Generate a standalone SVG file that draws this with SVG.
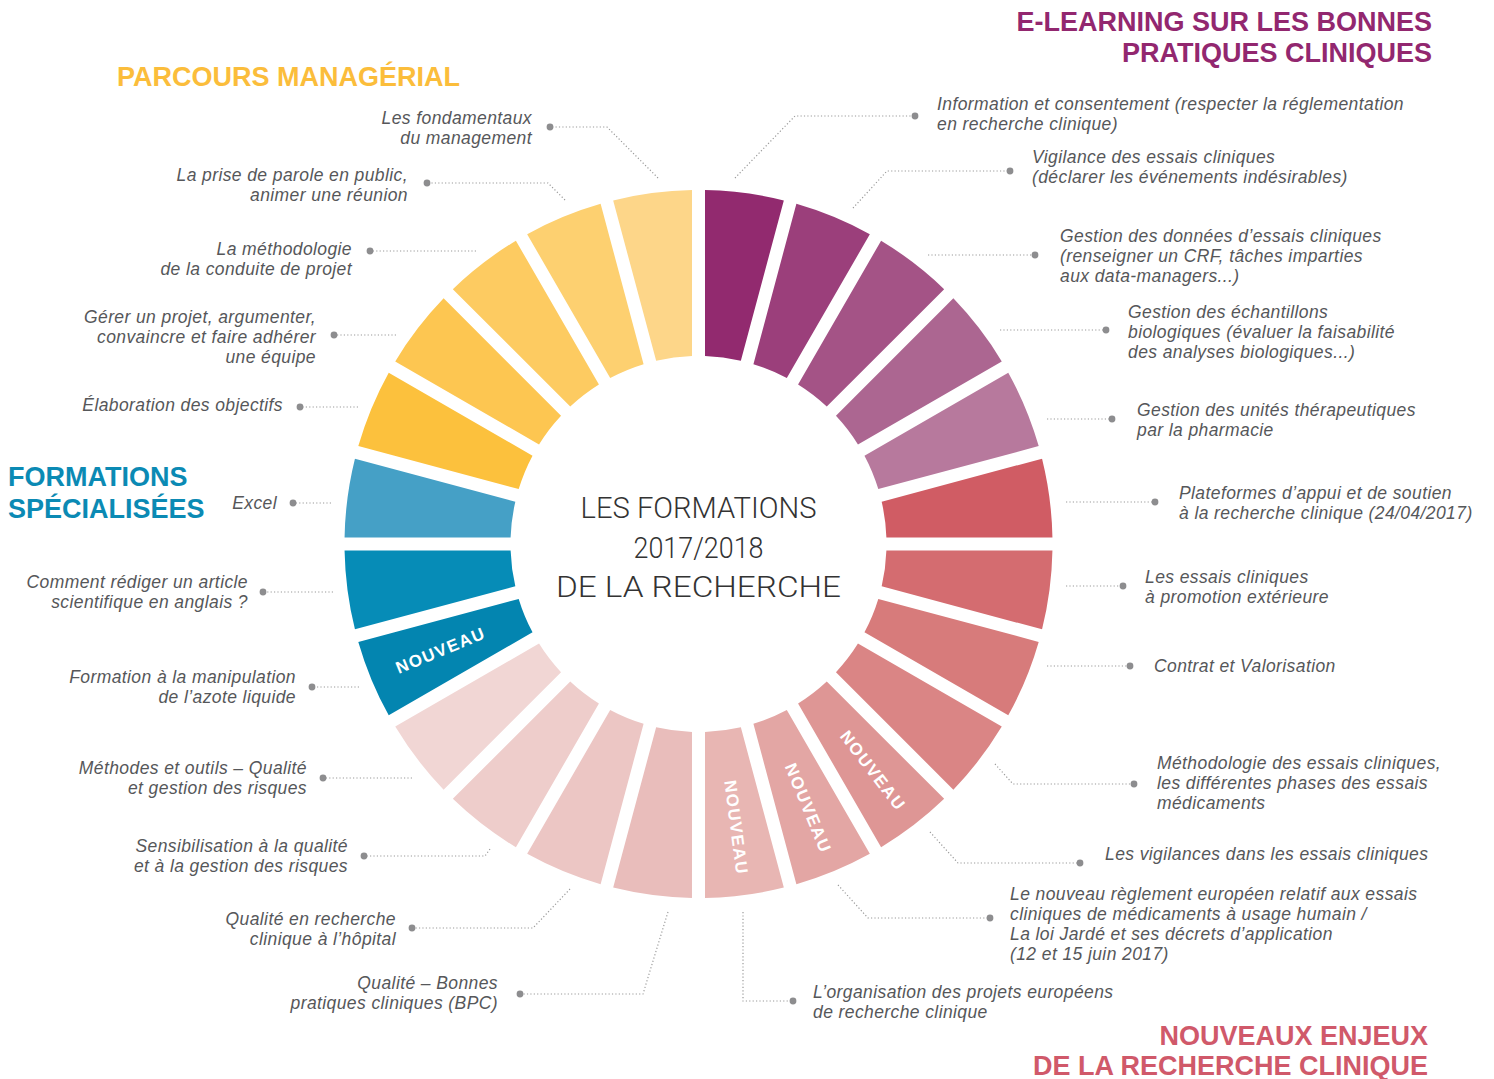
<svg xmlns="http://www.w3.org/2000/svg" xmlns:xlink="http://www.w3.org/1999/xlink" width="1494" height="1079" viewBox="0 0 1494 1079">
  <style>
    .lbl { font-family: "Liberation Sans", Arial, sans-serif; font-style: italic; font-size: 17.5px; letter-spacing: 0.4px; fill: #56575a; }
    .end { text-anchor: end; }
    .new { font-family: "Liberation Sans", Arial, sans-serif; font-weight: bold; font-size: 17px; letter-spacing: 1.5px; fill: #ffffff; text-anchor: middle; dominant-baseline: central; }
    .head { font-family: "Liberation Sans", Arial, sans-serif; font-weight: bold; font-size: 27px; }
    .center { font-family: Roboto, "Liberation Sans", Arial, sans-serif; font-weight: 300; font-size: 29px; fill: #333333; text-anchor: middle; }
    .lead { fill: none; stroke: #9a9a9a; stroke-width: 1.2; stroke-dasharray: 1.2 2.2; marker-end: url(#dot); }
  </style>
  <defs>
    <!-- one ring segment, 15 degrees wide, pointing up, with 13px gaps on both sides -->
    <path id="seg" d="M-39.75,-351.76 A354,354 0 0 1 39.75,-351.76 L18.08,-187.13 A188,188 0 0 0 -18.08,-187.13 Z"/>
    <marker id="dot" markerUnits="userSpaceOnUse" markerWidth="10" markerHeight="10" refX="5" refY="5" orient="auto">
      <circle cx="5" cy="5" r="3.4" fill="#8d8d8f"/>
    </marker>
  </defs>

  <rect width="1494" height="1079" fill="#ffffff"/>

  <!-- category titles -->
  <g id="titles">
    <text class="head" x="117" y="86" font-size="26.5" fill="#fbbd3b">PARCOURS MANAGÉRIAL</text>
    <text class="head" x="1432" y="31" text-anchor="end" fill="#92276f">E-LEARNING SUR LES BONNES</text>
    <text class="head" x="1432" y="62" text-anchor="end" fill="#92276f">PRATIQUES CLINIQUES</text>
    <text class="head" x="8" y="486" fill="#0b8ab4">FORMATIONS</text>
    <text class="head" x="8" y="518" fill="#0b8ab4">SPÉCIALISÉES</text>
    <text class="head" x="1428" y="1045" text-anchor="end" fill="#d0596a">NOUVEAUX ENJEUX</text>
    <text class="head" x="1428" y="1075" text-anchor="end" fill="#d0596a">DE LA RECHERCHE CLINIQUE</text>
  </g>

  <!-- centre title -->
  <g id="centre">
    <text class="center" x="698.5" y="518" textLength="236" lengthAdjust="spacingAndGlyphs">LES FORMATIONS</text>
    <text class="center" x="698.5" y="558" textLength="130" lengthAdjust="spacingAndGlyphs">2017/2018</text>
    <text class="center" x="698.5" y="597" textLength="285" lengthAdjust="spacingAndGlyphs">DE LA RECHERCHE</text>
  </g>

  <!-- leader lines from the ring to each label -->
  <g id="connectors">
    <polyline class="lead" points="735,178 795,116 915,116"/>
    <polyline class="lead" points="853,208 887,171 1010,171"/>
    <polyline class="lead" points="928,255 1035,255"/>
    <polyline class="lead" points="1000,330 1106,330"/>
    <polyline class="lead" points="1047,419 1112,419"/>
    <polyline class="lead" points="1066,502 1155,502"/>
    <polyline class="lead" points="1066,586 1123,586"/>
    <polyline class="lead" points="1047,666 1130,666"/>
    <polyline class="lead" points="995,764 1013,784 1134,784"/>
    <polyline class="lead" points="930,832 958,863 1080,863"/>
    <polyline class="lead" points="838,885 868,918 990,918"/>
    <polyline class="lead" points="743,912 743,1001 793,1001"/>
    <polyline class="lead" points="668,912 643,994 520,994"/>
    <polyline class="lead" points="570,889 533,928 412,928"/>
    <polyline class="lead" points="490,849 485,856 364,856"/>
    <polyline class="lead" points="412,778 323,778"/>
    <polyline class="lead" points="359,687 312,687"/>
    <polyline class="lead" points="333,592 263,592"/>
    <polyline class="lead" points="331,503 293,503"/>
    <polyline class="lead" points="358,407 300,407"/>
    <polyline class="lead" points="396,335 334,335"/>
    <polyline class="lead" points="476,251 370,251"/>
    <polyline class="lead" points="565,200 548,183 427,183"/>
    <polyline class="lead" points="658,178 607,127 550,127"/>
  </g>

  <!-- E-learning: bonnes pratiques cliniques -->
  <g id="information-consentement">
    <use href="#seg" transform="translate(698.5 544) rotate(7.5)" fill="#922a6f"/>
    <text class="lbl" x="937" y="110"><tspan x="937">Information et consentement (respecter la réglementation</tspan><tspan x="937" dy="20">en recherche clinique)</tspan></text>
  </g>
  <g id="vigilance-essais">
    <use href="#seg" transform="translate(698.5 544) rotate(22.5)" fill="#9b3f7b"/>
    <text class="lbl" x="1032" y="163"><tspan x="1032">Vigilance des essais cliniques</tspan><tspan x="1032" dy="20">(déclarer les événements indésirables)</tspan></text>
  </g>
  <g id="gestion-donnees">
    <use href="#seg" transform="translate(698.5 544) rotate(37.5)" fill="#a45386"/>
    <text class="lbl" x="1060" y="242"><tspan x="1060">Gestion des données d’essais cliniques</tspan><tspan x="1060" dy="20">(renseigner un CRF, tâches imparties</tspan><tspan x="1060" dy="20">aux data-managers...)</tspan></text>
  </g>
  <g id="gestion-echantillons">
    <use href="#seg" transform="translate(698.5 544) rotate(52.5)" fill="#ac6691"/>
    <text class="lbl" x="1128" y="318"><tspan x="1128">Gestion des échantillons</tspan><tspan x="1128" dy="20">biologiques (évaluer la faisabilité</tspan><tspan x="1128" dy="20">des analyses biologiques...)</tspan></text>
  </g>
  <g id="gestion-unites">
    <use href="#seg" transform="translate(698.5 544) rotate(67.5)" fill="#b7799d"/>
    <text class="lbl" x="1137" y="416"><tspan x="1137">Gestion des unités thérapeutiques</tspan><tspan x="1137" dy="20">par la pharmacie</tspan></text>
  </g>

  <!-- Nouveaux enjeux de la recherche clinique -->
  <g id="plateformes">
    <use href="#seg" transform="translate(698.5 544) rotate(82.5)" fill="#d05c64"/>
    <text class="lbl" x="1179" y="499"><tspan x="1179">Plateformes d’appui et de soutien</tspan><tspan x="1179" dy="20">à la recherche clinique (24/04/2017)</tspan></text>
  </g>
  <g id="essais-promotion-exterieure">
    <use href="#seg" transform="translate(698.5 544) rotate(97.5)" fill="#d46c70"/>
    <text class="lbl" x="1145" y="583"><tspan x="1145">Les essais cliniques</tspan><tspan x="1145" dy="20">à promotion extérieure</tspan></text>
  </g>
  <g id="contrat-valorisation">
    <use href="#seg" transform="translate(698.5 544) rotate(112.5)" fill="#d77b7b"/>
    <text class="lbl" x="1154" y="672">Contrat et Valorisation</text>
  </g>
  <g id="methodologie-essais">
    <use href="#seg" transform="translate(698.5 544) rotate(127.5)" fill="#da8585"/>
    <text class="lbl" x="1157" y="769"><tspan x="1157">Méthodologie des essais cliniques,</tspan><tspan x="1157" dy="20">les différentes phases des essais</tspan><tspan x="1157" dy="20">médicaments</tspan></text>
  </g>
  <g id="vigilances-essais">
    <use href="#seg" transform="translate(698.5 544) rotate(142.5)" fill="#de9695"/>
    <text class="new" transform="translate(698.5 544) rotate(142.5) translate(0 -286) rotate(-90)">NOUVEAU</text>
    <text class="lbl" x="1105" y="860">Les vigilances dans les essais cliniques</text>
  </g>
  <g id="reglement-europeen">
    <use href="#seg" transform="translate(698.5 544) rotate(157.5)" fill="#e3a6a4"/>
    <text class="new" transform="translate(698.5 544) rotate(157.5) translate(0 -286) rotate(-90)">NOUVEAU</text>
    <text class="lbl" x="1010" y="900"><tspan x="1010">Le nouveau règlement européen relatif aux essais</tspan><tspan x="1010" dy="20">cliniques de médicaments à usage humain /</tspan><tspan x="1010" dy="20">La loi Jardé et ses décrets d’application</tspan><tspan x="1010" dy="20">(12 et 15 juin 2017)</tspan></text>
  </g>
  <g id="projets-europeens">
    <use href="#seg" transform="translate(698.5 544) rotate(172.5)" fill="#e8b6b3"/>
    <text class="new" transform="translate(698.5 544) rotate(172.5) translate(0 -286) rotate(-90)">NOUVEAU</text>
    <text class="lbl" x="813" y="998"><tspan x="813">L’organisation des projets européens</tspan><tspan x="813" dy="20">de recherche clinique</tspan></text>
  </g>

  <!-- Formations spécialisées (qualité) -->
  <g id="qualite-bpc">
    <use href="#seg" transform="translate(698.5 544) rotate(187.5)" fill="#e9bdbb"/>
    <text class="lbl end" x="498" y="989"><tspan x="498">Qualité – Bonnes</tspan><tspan x="498" dy="20">pratiques cliniques (BPC)</tspan></text>
  </g>
  <g id="qualite-hopital">
    <use href="#seg" transform="translate(698.5 544) rotate(202.5)" fill="#ecc6c4"/>
    <text class="lbl end" x="396" y="925"><tspan x="396">Qualité en recherche</tspan><tspan x="396" dy="20">clinique à l’hôpital</tspan></text>
  </g>
  <g id="sensibilisation-qualite">
    <use href="#seg" transform="translate(698.5 544) rotate(217.5)" fill="#eecdcb"/>
    <text class="lbl end" x="348" y="852"><tspan x="348">Sensibilisation à la qualité</tspan><tspan x="348" dy="20">et à la gestion des risques</tspan></text>
  </g>
  <g id="methodes-outils-qualite">
    <use href="#seg" transform="translate(698.5 544) rotate(232.5)" fill="#f1d6d4"/>
    <text class="lbl end" x="307" y="774"><tspan x="307">Méthodes et outils – Qualité</tspan><tspan x="307" dy="20">et gestion des risques</tspan></text>
  </g>

  <!-- Formations spécialisées -->
  <g id="azote-liquide">
    <use href="#seg" transform="translate(698.5 544) rotate(247.5)" fill="#0385b0"/>
    <text class="new" transform="translate(698.5 544) rotate(247.5) translate(0 -279) rotate(90)">NOUVEAU</text>
    <text class="lbl end" x="296" y="683"><tspan x="296">Formation à la manipulation</tspan><tspan x="296" dy="20">de l’azote liquide</tspan></text>
  </g>
  <g id="article-anglais">
    <use href="#seg" transform="translate(698.5 544) rotate(262.5)" fill="#068cb7"/>
    <text class="lbl end" x="248" y="588"><tspan x="248">Comment rédiger un article</tspan><tspan x="248" dy="20">scientifique en anglais ?</tspan></text>
  </g>
  <g id="excel">
    <use href="#seg" transform="translate(698.5 544) rotate(277.5)" fill="#45a0c6"/>
    <text class="lbl end" x="277" y="509">Excel</text>
  </g>

  <!-- Parcours managérial -->
  <g id="elaboration-objectifs">
    <use href="#seg" transform="translate(698.5 544) rotate(292.5)" fill="#fcc13d"/>
    <text class="lbl end" x="283" y="411">Élaboration des objectifs</text>
  </g>
  <g id="gerer-projet">
    <use href="#seg" transform="translate(698.5 544) rotate(307.5)" fill="#fdc651"/>
    <text class="lbl end" x="316" y="323"><tspan x="316">Gérer un projet, argumenter,</tspan><tspan x="316" dy="20">convaincre et faire adhérer</tspan><tspan x="316" dy="20">une équipe</tspan></text>
  </g>
  <g id="conduite-projet">
    <use href="#seg" transform="translate(698.5 544) rotate(322.5)" fill="#fdcb61"/>
    <text class="lbl end" x="352" y="255"><tspan x="352">La méthodologie</tspan><tspan x="352" dy="20">de la conduite de projet</tspan></text>
  </g>
  <g id="prise-de-parole">
    <use href="#seg" transform="translate(698.5 544) rotate(337.5)" fill="#fdd070"/>
    <text class="lbl end" x="408" y="181"><tspan x="408">La prise de parole en public,</tspan><tspan x="408" dy="20">animer une réunion</tspan></text>
  </g>
  <g id="fondamentaux-management">
    <use href="#seg" transform="translate(698.5 544) rotate(352.5)" fill="#fdd689"/>
    <text class="lbl end" x="532" y="124"><tspan x="532">Les fondamentaux</tspan><tspan x="532" dy="20">du management</tspan></text>
  </g>
</svg>
